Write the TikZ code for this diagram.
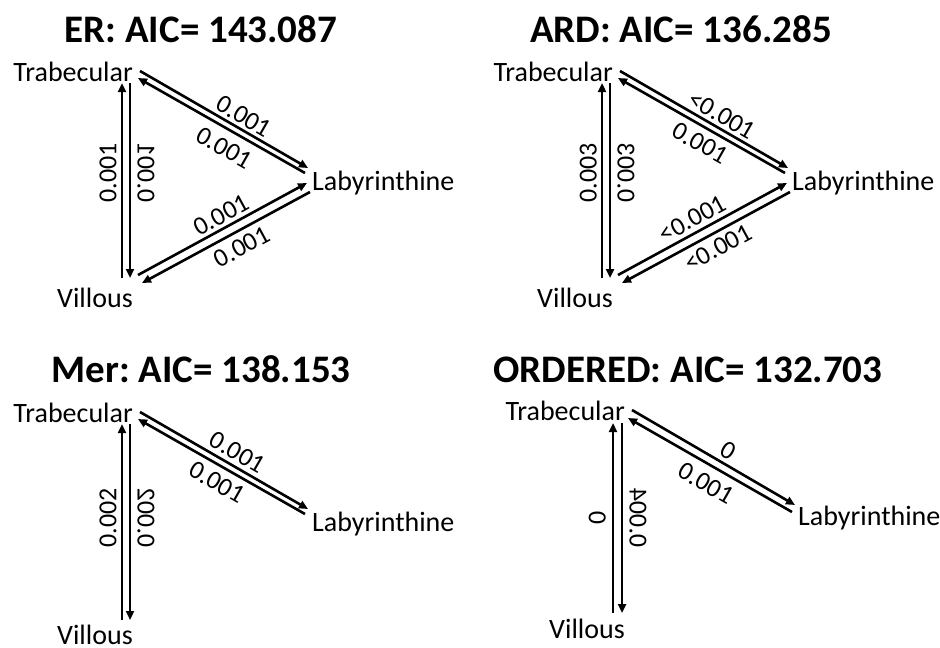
\documentclass[tikz,border=0pt]{standalone}
\usepackage{fontspec}
\setmainfont{Carlito}
\usetikzlibrary{arrows.meta}
\frenchspacing
\tikzset{
    %Define standard arrow tip
    >={Triangle[length=9pt,width=8pt]},
    flow/.style={->, line width=2.6pt},
    tissue/.style={
      inner sep=0pt,
      font=\fontsize{28}{30}\selectfont},
    aic/.style={
      inner sep=0pt, anchor=base,
      font=\fontsize{39}{42}\selectfont\bfseries},
    rate/.style={
      inner sep=3pt,
      font=\fontsize{26}{28}\selectfont},
    flipped/.style={xscale=-1, rotate=90},
}
\begin{document}
\begin{tikzpicture}[x=1pt, y=1pt]
    \useasboundingbox (0,0) rectangle (940,-648);

    % ER
    \node (er) [aic] at (201,-42) {ER: AIC= 143.087};
    \node (trab1) [tissue, anchor=base east] at (133,-81) {Trabecular};
    \node (lab1) [tissue, anchor=base west] at (312,-190) {Labyrinthine};
    \node (vill1) [tissue, anchor=base east] at (133,-307) {Villous};
    \draw [flow] ([shift={(-11pt,29pt)}]vill1.base east)
          -- node [rate, above, rotate=90, pos=0.54, inner sep=4pt] {0.001} ([shift={(-11pt,-2pt)}]trab1.base east);
    \draw [flow] ([shift={(-3pt,-2pt)}]trab1.base east)
          -- node [rate, above, flipped, pos=0.46, inner sep=6pt] {0.001} ([shift={(-3pt,29pt)}]vill1.base east);
    \draw [flow] ([shift={(7pt,10pt)}]trab1.base east)
          -- node [rate, above, sloped, pos=0.58] {0.001} ([shift={(-4pt,22pt)}]lab1.base west);
    \draw [flow] ([shift={(-7pt,17pt)}]lab1.base west)
          -- node [rate, below, sloped, pos=0.43, inner sep=8pt] {0.001} ([shift={(5pt,3pt)}]trab1.base east);
    \draw [flow] ([shift={(5pt,32pt)}]vill1.base east)
          -- node [rate, above, sloped, pos=0.53] {0.001} ([shift={(-5pt,7pt)}]lab1.base west);
    \draw [flow] ([shift={(-2pt,-2pt)}]lab1.base west)
          -- node [rate, below, sloped, pos=0.45, inner sep=6pt] {0.001} ([shift={(9pt,24pt)}]vill1.base east);

    % ARD
    \node (ard) [aic] at (681,-42) {ARD: AIC= 136.285};
    \node (trab2) [tissue, anchor=base east] at (613,-81) {Trabecular};
    \node (lab2) [tissue, anchor=base west] at (792,-190) {Labyrinthine};
    \node (vill2) [tissue, anchor=base east] at (613,-307) {Villous};
    \draw [flow] ([shift={(-11pt,29pt)}]vill2.base east)
          -- node [rate, above, rotate=90, pos=0.54, inner sep=4pt] {0.003} ([shift={(-11pt,-2pt)}]trab2.base east);
    \draw [flow] ([shift={(-3pt,-2pt)}]trab2.base east)
          -- node [rate, above, flipped, pos=0.46, inner sep=6pt] {0.003} ([shift={(-3pt,29pt)}]vill2.base east);
    \draw [flow] ([shift={(7pt,10pt)}]trab2.base east)
          -- node [rate, above, sloped, pos=0.57] {<0.001} ([shift={(-4pt,22pt)}]lab2.base west);
    \draw [flow] ([shift={(-7pt,17pt)}]lab2.base west)
          -- node [rate, below, sloped, pos=0.46, inner sep=6pt] {0.001} ([shift={(5pt,3pt)}]trab2.base east);
    \draw [flow] ([shift={(5pt,32pt)}]vill2.base east)
          -- node [rate, above, sloped, pos=0.48, inner sep=4pt] {<0.001} ([shift={(-5pt,7pt)}]lab2.base west);
    \draw [flow] ([shift={(-2pt,-2pt)}]lab2.base west)
          -- node [rate, below, sloped, pos=0.47, inner sep=5pt] {<0.001} ([shift={(9pt,24pt)}]vill2.base east);

    % Mer
    \node (mer) [aic] at (201,-382) {Mer: AIC= 138.153};
    \node (trab3) [tissue, anchor=base east] at (133,-422) {Trabecular};
    \node (lab3) [tissue, anchor=base west] at (312,-531) {Labyrinthine};
    \node (vill3) [tissue, anchor=base east] at (133,-644) {Villous};
    \draw [flow] ([shift={(-11pt,24pt)}]vill3.base east)
          -- node [rate, above, rotate=90, pos=0.52, inner sep=4pt] {0.002} ([shift={(-11pt,-2pt)}]trab3.base east);
    \draw [flow] ([shift={(-3pt,-2pt)}]trab3.base east)
          -- node [rate, above, flipped, pos=0.48, inner sep=6pt] {0.002} ([shift={(-3pt,24pt)}]vill3.base east);
    \draw [flow] ([shift={(7pt,10pt)}]trab3.base east)
          -- node [rate, above, sloped, pos=0.54, inner sep=4pt] {0.001} ([shift={(-4pt,22pt)}]lab3.base west);
    \draw [flow] ([shift={(-7pt,17pt)}]lab3.base west)
          -- node [rate, below, sloped, pos=0.48, inner sep=6pt] {0.001} ([shift={(5pt,3pt)}]trab3.base east);

    % ORDERED
    \node (ordered) [aic] at (688,-382) {ORDERED: AIC= 132.703};
    \node (trab4) [tissue, anchor=base east] at (625,-420) {Trabecular};
    \node (lab4) [tissue, anchor=base west] at (798,-525) {Labyrinthine};
    \node (vill4) [tissue, anchor=base east] at (625,-638) {Villous};
    \draw [flow] ([shift={(-12pt,25pt)}]vill4.base east)
          -- node [rate, above, rotate=90, pos=0.5, inner sep=6pt] {0} ([shift={(-12pt,-3pt)}]trab4.base east);
    \draw [flow] ([shift={(-3pt,-3pt)}]trab4.base east)
          -- node [rate, above, flipped, pos=0.5, inner sep=6pt] {0.004} ([shift={(-3pt,25pt)}]vill4.base east);
    \draw [flow] ([shift={(7pt,10pt)}]trab4.base east)
          -- node [rate, above, sloped, pos=0.55, inner sep=4pt] {0} ([shift={(-3pt,20pt)}]lab4.base west);
    \draw [flow] ([shift={(-6pt,13pt)}]lab4.base west)
          -- node [rate, below, sloped, pos=0.47, inner sep=8pt] {0.001} ([shift={(3pt,2pt)}]trab4.base east);
\end{tikzpicture}
\end{document}
